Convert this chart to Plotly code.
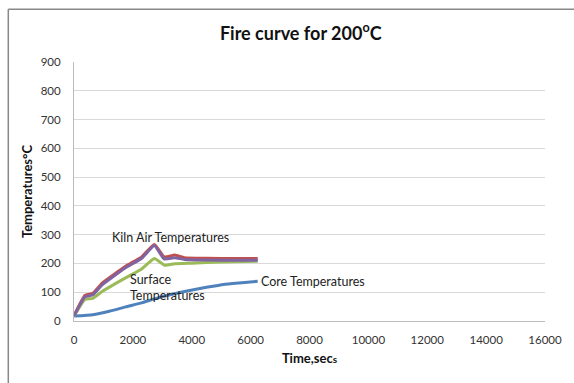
import plotly.graph_objects as go

# Kiln fire curve, 200 °C run
kiln_red_t = [0, 370, 640, 975, 1750, 2300, 2730, 3060, 3420, 3750, 4500, 5500, 6240]
kiln_red_v = [19, 89, 96, 133, 190, 223, 266, 223, 229, 220, 218, 217, 217]

kiln_purple_t = [0, 370, 640, 975, 1750, 2300, 2730, 3060, 3420, 3750, 4500, 5500, 6240]
kiln_purple_v = [17, 84, 91, 127, 185, 218, 262, 216, 220, 214, 212, 211, 211]

surface_t = [0, 370, 640, 975, 1750, 2300, 2730, 3080, 3420, 4000, 5000, 6240]
surface_v = [17, 75, 79, 104, 150, 181, 217, 194, 199, 201, 205, 208]

core_t = [0, 640, 1200, 1750, 2300, 2730, 3300, 3970, 4500, 5080, 5700, 6240]
core_v = [17, 22, 34, 49, 63, 77, 92, 107, 117, 127, 133, 138]

x_ticks = [0, 2000, 4000, 6000, 8000, 10000, 12000, 14000, 16000]
y_ticks = [0, 100, 200, 300, 400, 500, 600, 700, 800, 900]

FONT = "Lato, 'Open Sans', sans-serif"

fig = go.Figure()
for t, v, c in [
    (core_t, core_v, "#4F81BD"),
    (surface_t, surface_v, "#9BBB59"),
    (kiln_red_t, kiln_red_v, "#C0504D"),
    (kiln_purple_t, kiln_purple_v, "#8064A2"),
]:
    fig.add_trace(go.Scatter(x=t, y=v, mode="lines",
                             line=dict(color=c, width=3, shape="spline", smoothing=0.4),
                             showlegend=False, hoverinfo="skip"))

fig.add_annotation(x=3290, y=291, text="Kiln Air Temperatures", showarrow=False,
                   font=dict(size=12.5, color="#222", family=FONT), xanchor="center", yanchor="middle")
fig.add_annotation(x=1820, y=115, text="Surface<br>Temperatures", showarrow=False, align="left",
                   font=dict(size=12.5, color="#222", family=FONT), xanchor="left", yanchor="middle")
fig.add_annotation(x=6300, y=138, text="Core Temperatures", showarrow=False,
                   font=dict(size=12.5, color="#222", family=FONT), xanchor="left", yanchor="middle")

# Chart frame edges (left and top)
fig.add_shape(type="line", xref="paper", yref="paper", x0=-0.1395, x1=1.1, y0=1.204, y1=1.204,
              line=dict(color="#888", width=1.5))
fig.add_shape(type="line", xref="paper", yref="paper", x0=-0.1395, x1=-0.1395, y0=-0.3, y1=1.204,
              line=dict(color="#888", width=1.5))

fig.update_layout(
    width=574, height=383,
    margin=dict(l=74, r=19, t=62, b=62),
    paper_bgcolor="white", plot_bgcolor="white",
    font=dict(family=FONT, color="#333", size=11),
    title=dict(text="<b>Fire curve for 200<sup>o</sup>C</b>", x=0.524, xanchor="center",
               y=0.912, yanchor="middle", font=dict(size=18, color="#111", family=FONT)),
    xaxis=dict(range=[0, 16000], tickvals=x_ticks, ticktext=[str(v) for v in x_ticks],
               showgrid=False, showline=True, linecolor="#bbb", linewidth=1, ticks="",
               ticklabelstandoff=8,
               zeroline=False, tickfont=dict(size=11.5, color="#333"),
               title=dict(text="<b>Time,sec<span style='font-size:10px'>s</span></b>",
                          font=dict(size=13, color="#111"), standoff=9)),
    yaxis=dict(range=[0, 900], tickvals=y_ticks, showgrid=True, gridcolor="#d9d9d9",
               showline=True, linecolor="#bbb", linewidth=1, ticks="", zeroline=False,
               ticklabelstandoff=10,
               tickfont=dict(size=11.5, color="#333"),
               title=dict(text="<b>Temperatures°C</b>", font=dict(size=13, color="#111"), standoff=5)),
)

fig.write_html("out.html")
